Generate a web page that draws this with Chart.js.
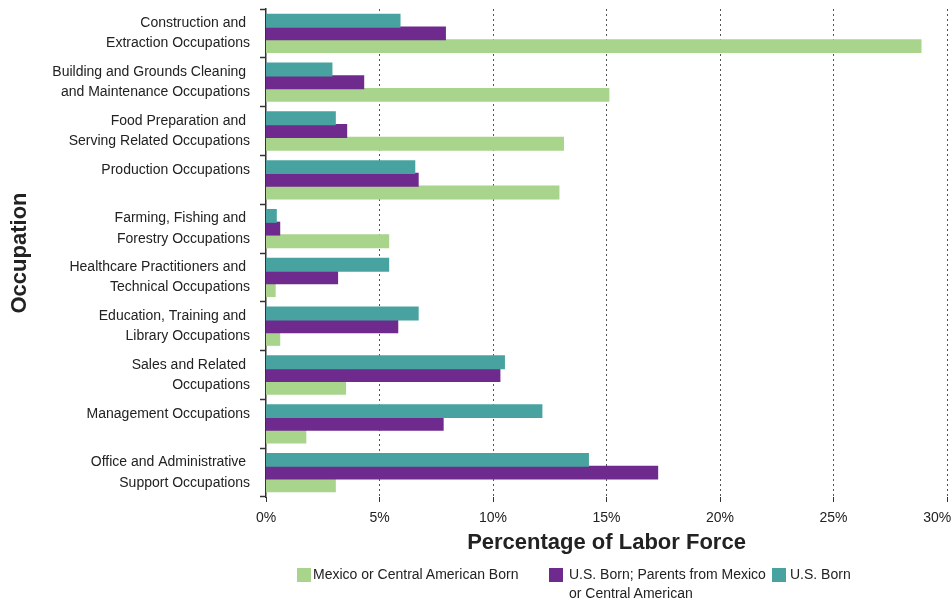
<!DOCTYPE html>
<html><head><meta charset="utf-8">
<script src="https://cdn.jsdelivr.net/npm/chart.js@4.4.1/dist/chart.umd.min.js"></script>
<style>
html,body{margin:0;padding:0;background:#fff;}
#wrap{position:relative;width:952px;height:603px;overflow:hidden;}
#c{position:absolute;left:0;top:0;}
.lg{position:absolute;font-family:'Liberation Sans',Arial,sans-serif;font-size:14px;line-height:19px;color:#222;white-space:pre;}
.bx{position:absolute;width:14px;height:14px;}
</style></head>
<body><div id="wrap"><canvas id="c" width="952" height="603"></canvas></div>
<script>
const categories = [
  ['Construction and ', 'Extraction Occupations'],
  ['Building and Grounds Cleaning ', 'and Maintenance Occupations'],
  ['Food Preparation and ', 'Serving Related Occupations'],
  ['Production Occupations', ''],
  ['Farming, Fishing and ', 'Forestry Occupations'],
  ['Healthcare Practitioners and ', 'Technical Occupations'],
  ['Education, Training and ', 'Library Occupations'],
  ['Sales and Related ', 'Occupations'],
  ['Management Occupations', ''],
  ['Office and Administrative ', 'Support Occupations']
];
const usBorn =        [5.9, 2.9, 3.05, 6.55, 0.45, 5.4, 6.7, 10.5, 12.15, 14.2];
const usBornParents = [7.9, 4.3, 3.55, 6.7, 0.6, 3.15, 5.8, 10.3, 7.8, 17.25];
const mexicoBorn =    [28.85, 15.1, 13.1, 12.9, 5.4, 0.4, 0.6, 3.5, 1.75, 3.05];
const xTickValues = [0, 5, 10, 15, 20, 25, 30];
const seriesLabels = ['U.S. Born', 'U.S. Born; Parents from Mexico\nor Central American', 'Mexico or Central American Born'];
const seriesColors = ['#48a3a0', '#6e2a8d', '#a8d48c'];

const FONT = "'Liberation Sans', Arial, sans-serif";

const chart = new Chart(document.getElementById('c'), {
  type: 'bar',
  data: {
    labels: categories,
    datasets: [
      {label: seriesLabels[0], data: usBorn, backgroundColor: seriesColors[0]},
      {label: seriesLabels[1], data: usBornParents, backgroundColor: seriesColors[1]},
      {label: seriesLabels[2], data: mexicoBorn, backgroundColor: seriesColors[2]}
    ]
  },
  options: {
    indexAxis: 'y',
    responsive: false,
    animation: false,
    devicePixelRatio: 1,
    categoryPercentage: 0.78,
    barPercentage: 1.0,
    elements: {bar: {borderWidth: 0, inflateAmount: 0.6}},
    layout: {padding: {top: 9, left: 0, right: 5, bottom: 47}},
    plugins: {legend: {display: false}, tooltip: {enabled: false}},
    scales: {
      x: {
        type: 'linear',
        min: xTickValues[0],
        max: xTickValues[xTickValues.length - 1],
        afterBuildTicks: (s) => { s.ticks = xTickValues.map(v => ({value: v})); },
        ticks: {
          padding: 8,
          maxRotation: 0,
          color: '#222',
          font: {family: FONT, size: 14},
          callback: (v) => v === 30 ? '30%\u00a0\u00a0\u00a0\u00a0\u00a0' : v + '%'
        },
        grid: {
          color: (ctx) => (ctx.tick && ctx.tick.value === 0) ? 'rgba(0,0,0,0)' : '#555',
          lineWidth: 1,
          tickLength: 5,
          tickColor: '#333',
          tickWidth: 1,
          tickBorderDash: []
        },
        border: {display: false, dash: [2, 3]},
        title: {
          display: true,
          text: 'Percentage of Labor Force',
          color: '#222',
          font: {family: FONT, size: 22, weight: 'bold'},
          padding: {top: 3, bottom: 0}
        },
        afterFit: (s) => { s.paddingRight = 0; s.paddingLeft = 0; s.height = 59; }
      },
      y: {
        type: 'category',
        ticks: {
          padding: 10,
          color: '#222',
          font: {family: FONT, size: 14, lineHeight: 1.45},
          autoSkip: false
        },
        grid: {
          offset: true,
          drawOnChartArea: false,
          tickLength: 6,
          tickColor: '#333',
          tickWidth: 1.5
        },
        border: {display: true, color: '#333', width: 1.5},
        title: {
          display: true,
          text: 'Occupation',
          color: '#222',
          font: {family: FONT, size: 22, weight: 'bold'},
          padding: {top: 7, bottom: 0}
        },
        afterFit: (s) => { s.paddingTop = 0; s.paddingBottom = 0; s.width = 266; }
      }
    }
  }
});

// HTML legend built from the chart's datasets (legend order: green, purple, teal)
const wrap = document.getElementById('wrap');
const legendLayout = [
  {ds: 2, box: [297, 568], text: [313, 565]},
  {ds: 1, box: [549, 568], text: [569, 565]},
  {ds: 0, box: [772, 568], text: [790, 565]}
];
legendLayout.forEach(item => {
  const ds = chart.data.datasets[item.ds];
  const b = document.createElement('div');
  b.className = 'bx';
  b.style.left = item.box[0] + 'px';
  b.style.top = item.box[1] + 'px';
  b.style.background = ds.backgroundColor;
  wrap.appendChild(b);
  const t = document.createElement('div');
  t.className = 'lg';
  t.style.left = item.text[0] + 'px';
  t.style.top = item.text[1] + 'px';
  t.textContent = ds.label;
  wrap.appendChild(t);
});
</script>
</body></html>
